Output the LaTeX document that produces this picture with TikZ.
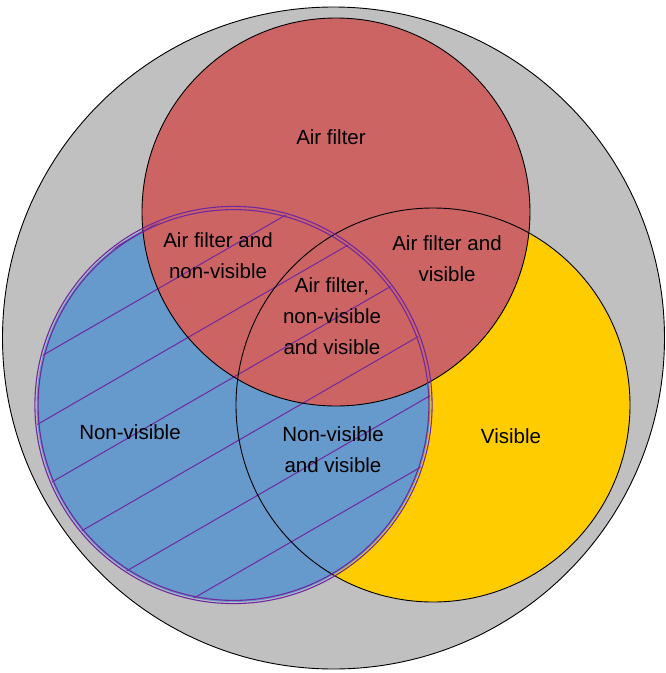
\documentclass[tikz,border=0pt]{standalone}
\usepackage{fontspec}
\setmainfont{Liberation Sans}
\usepackage{xcolor}
\usepackage{tikz}
\definecolor{grigio}{RGB}{192,192,192}
\definecolor{rosso}{RGB}{204,100,100}
\definecolor{giallo}{RGB}{255,204,0}
\definecolor{azzurro}{RGB}{102,153,204}
\definecolor{viola}{RGB}{112,40,160}
\tikzset{
    etichetta/.style={align=center,font=\fontsize{20.5}{31}\selectfont},
    bordo/.style={draw=black,line width=0.9pt},
}

\begin{document}
\begin{tikzpicture}[x=1pt,y=-1pt]

        % Cornice
    \useasboundingbox (0,0) rectangle (666,673);
    \fill[white] (0,0) rectangle (666,673);

        % Centri e raggi
    \coordinate (cTot) at (333.5,338);
    \coordinate (cAria) at (336,212);
    \coordinate (cVis) at (433,405);
    \coordinate (cNonVis) at (233.5,405);
    \pgfmathsetmacro{\rTot}{331}
    \pgfmathsetmacro{\rAria}{194}
    \pgfmathsetmacro{\rVis}{197}
    \pgfmathsetmacro{\rNonVis}{197}

        % Riempimenti
    \fill[grigio] (cTot) circle[radius=\rTot pt];
    \draw[bordo] (cTot) circle[radius=\rTot pt];  % Universo
    \fill[giallo] (cVis) circle[radius=\rVis pt];
    \fill[azzurro] (cNonVis) circle[radius=\rNonVis pt];
    \fill[rosso] (cAria) circle[radius=\rAria pt];

        % Tratteggio su non-visible
    \begin{scope}
        \clip (cNonVis) circle[radius=\rNonVis pt];
        \foreach \c in {314,380,...,710}
            \draw[viola,line width=1pt] (0,\c) -- (666,\c-384.5);
    \end{scope}

        % Bordi
    \draw[bordo] (cAria) circle[radius=\rAria pt];
    \draw[bordo] (cVis) circle[radius=\rVis pt];
    \draw[viola,line width=1.1pt] (cNonVis) circle[radius=\rNonVis pt-1.6pt]
                                  (cNonVis) circle[radius=\rNonVis pt+1.6pt];  % Doppio bordo

        % Etichette
    \node[etichetta] (aria) at (331,137) {Air filter};
    \node[etichetta] (ariaNonVis) at (218,256) {Air filter and\\non-visible};
    \node[etichetta] (ariaVis) at (447,259) {Air filter and\\visible};
    \node[etichetta] (tutti) at (332,316) {Air filter,\\non-visible\\and visible};
    \node[etichetta] (nonVis) at (130,432) {Non-visible};
    \node[etichetta] (nonVisVis) at (333,450) {Non-visible\\and visible};
    \node[etichetta] (vis) at (511,436) {Visible};

\end{tikzpicture}
\end{document}
